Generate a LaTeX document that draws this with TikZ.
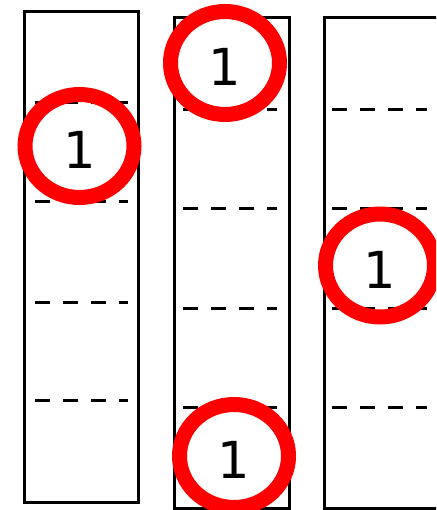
\documentclass[tikz,border=0pt]{standalone}
\usepackage{fontspec}
\setmainfont{DejaVu Sans}
\usetikzlibrary{positioning, shapes.geometric}

\begin{document}
\begin{tikzpicture}[x=1pt, y=-1pt,
    column/.style={rectangle, draw, line width=3pt, minimum width=114pt, minimum height=491pt, inner sep=0pt},
    divider/.style={line width=3.5pt, dash pattern=on 15pt off 13pt},
    badge/.style={ellipse, draw=red, line width=15pt, minimum width=109pt, minimum height=103pt, inner sep=0pt,
                  font=\fontsize{51}{60}\selectfont, text height=45pt}]
  \useasboundingbox (0,0) rectangle (436,510);
  \clip (0,0) rectangle (436,510);

  \node[column] (col1) at (81.5,257) {};
  \node[column, minimum width=115pt] (col2) at (232,263) {};
  \node[column, minimum width=115pt] (col3) at (382,263) {};

  \foreach \y in {102.5,201.5,302.5,400.5}
    \draw[divider] (35,\y) -- (128,\y);
  \foreach \y in {109.5,208.5,308.5,407.5} {
    \draw[divider] (183,\y) -- (277,\y);
    \draw[divider] (332,\y) -- (427,\y);
  }

  \node[badge] (hit1) at (79.5,146) {1};
  \node[badge] (hit2) at (225,63) {1};
  \node[badge] (hit3) at (234,456) {1};
  \node[badge] (hit4) at (380,265.5) {1};
\end{tikzpicture}
\end{document}
